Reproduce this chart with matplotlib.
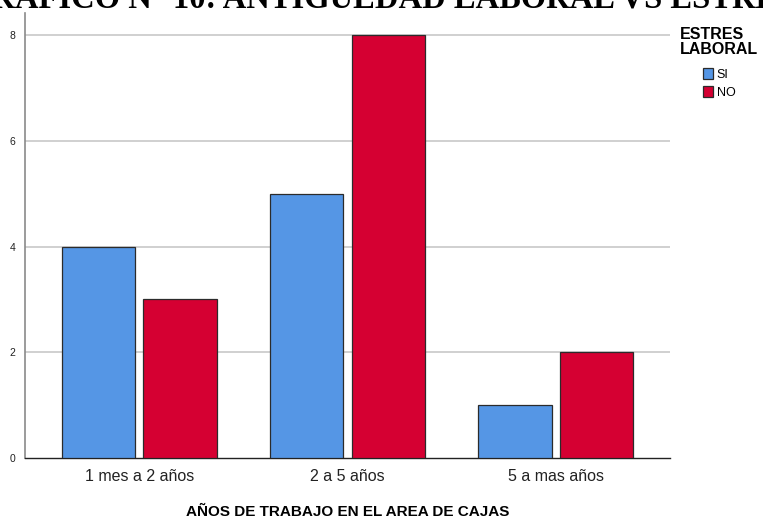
import matplotlib
matplotlib.use("Agg")
import matplotlib.pyplot as plt
import numpy as np
from matplotlib.patches import Patch

categories = ["1 mes a 2 años", "2 a 5 años", "5 a mas años"]
series_names = ["SI", "NO"]
si_values = [4, 5, 1]
no_values = [3, 8, 2]
y_ticks = [0, 2, 4, 6, 8]

colors = {"SI": "#5596E5", "NO": "#D50032"}

fig = plt.figure(figsize=(7.63, 5.20), dpi=100)
ax = fig.add_axes([25 / 763, 1 - 458 / 520, 645 / 763, 445 / 520])

x = np.arange(len(categories))
width = 0.355
offset = 0.197
ax.bar(x - offset, si_values, width, color=colors["SI"], edgecolor="#2b2b2b",
       linewidth=0.9, zorder=3)
ax.bar(x + offset, no_values, width, color=colors["NO"], edgecolor="#2b2b2b",
       linewidth=0.9, zorder=3)

ax.set_xlim(-0.55, 2.55)
ax.set_ylim(0, 8.42)
ax.set_yticks(y_ticks)
ax.set_yticklabels([str(v) for v in y_ticks], fontsize=7.5, family="Liberation Sans",
                   color="#222222")
ax.set_xticks(x)
ax.set_xticklabels(categories, fontsize=11.5, family="Liberation Sans", color="#222222")
ax.tick_params(axis="both", length=0)
ax.tick_params(axis="y", pad=7)
ax.tick_params(axis="x", pad=8)

for yv in y_ticks[1:]:
    ax.axhline(yv, color="#c8c8c8", linewidth=1.2, zorder=1)

for side in ["top", "right"]:
    ax.spines[side].set_visible(False)
ax.spines["left"].set_color("#8a8a8a")
ax.spines["left"].set_linewidth(1.2)
ax.spines["bottom"].set_color("#222222")
ax.spines["bottom"].set_linewidth(1.0)

ax.set_xlabel("AÑOS DE TRABAJO EN EL AREA DE CAJAS", fontsize=11, fontweight="bold",
              family="Liberation Sans", labelpad=15)

fig.text(-0.045, 1 - 8 / 520, "GRÁFICO N° 10: ANTIGÜEDAD LABORAL VS ESTRÉS LABORAL",
         ha="left", va="baseline", fontsize=23.5, fontweight="bold",
         family="Liberation Serif")

handles = [Patch(facecolor=colors[n], edgecolor="#2b2b2b", linewidth=0.9)
           for n in series_names]
leg = fig.legend(handles, series_names, title="ESTRES\nLABORAL",
                 loc="upper left", bbox_to_anchor=(669 / 763, 1 - 16 / 520),
                 frameon=False, fontsize=9, handlelength=0.8, handleheight=1.0,
                 handletextpad=0.25, labelspacing=0.45,
                 title_fontproperties={"weight": "bold", "size": 11.5,
                                       "family": "Liberation Sans"})
leg._legend_box.align = "center"
leg._legend_box.sep = 8
for t in leg.get_texts():
    t.set_family("Liberation Sans")
leg.get_title().set_linespacing(0.95)

fig.savefig("out.png", dpi=100)
